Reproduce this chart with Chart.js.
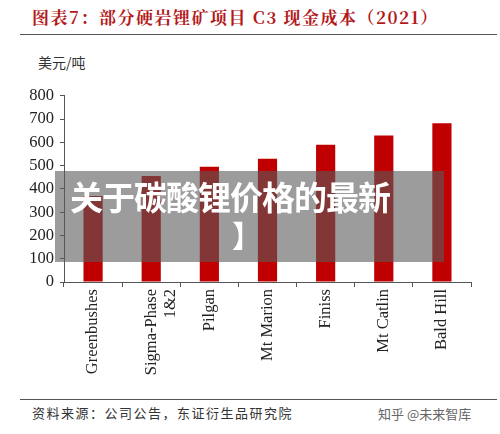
<!DOCTYPE html>
<html><head><meta charset="utf-8">
<script src="https://cdn.jsdelivr.net/npm/chart.js@4"></script>
<style>
body{margin:0;width:500px;height:434px;background:#fff;position:relative;overflow:hidden;font-family:"Noto Sans CJK SC";}
#title{position:absolute;left:32px;top:4px;font-size:17px;font-weight:bold;color:#b3191c;font-family:"Noto Serif CJK SC","Noto Sans CJK SC";letter-spacing:1.5px;}
.line{position:absolute;left:20px;width:477px;height:1px;background:#555;}
#unit{position:absolute;left:38px;top:52px;font-size:14px;color:#333;}
#src{position:absolute;left:32px;top:403px;font-size:13px;color:#333;letter-spacing:1.5px;}
#wm{position:absolute;left:378px;top:404px;font-size:13px;color:#666;}
#box{position:absolute;left:55px;top:171px;width:389px;height:91px;background:rgba(90,90,90,0.6);}
#ov{position:absolute;left:70px;top:172px;font-size:33px;font-weight:bold;color:#fff;letter-spacing:-1px;}
#ov2{position:absolute;left:232px;top:212px;font-size:30px;font-weight:bold;color:#fff;}
</style></head><body>
<div id="title">图表7：部分硬岩锂矿项目 C3 现金成本（2021）</div>
<div class="line" style="top:34px"></div>
<div id="unit">美元/吨</div>
<div style="position:absolute;left:0;top:80px;width:500px;height:300px"><canvas id="c"></canvas></div>
<div id="box"></div>
<div id="ov">关于碳酸锂价格的最新</div>
<div id="ov2">】</div>
<div class="line" style="top:399px"></div>
<div id="src">资料来源：公司公告，东证衍生品研究院</div>
<div id="wm">知乎 @未来智库</div>
<script>
const categories = ["Greenbushes", ["Sigma-Phase", "1&2"], "Pilgan", "Mt Marion", "Finiss", "Mt Catlin", "Bald Hill"];
const costs = [370, 456, 495, 530, 590, 630, 682];
const yTicks = [0, 100, 200, 300, 400, 500, 600, 700, 800];

const font = { family: "Liberation Serif", size: 16.5 };
new Chart(document.getElementById("c"), {
  type: "bar",
  data: {
    labels: categories,
    datasets: [{ data: costs, backgroundColor: "#c00000", barPercentage: 0.33, categoryPercentage: 1 }],
  },
  options: {
    responsive: true,
    maintainAspectRatio: false,
    animation: false,
    layout: { padding: { top: 9, right: 29 } },
    plugins: { legend: { display: false }, tooltip: { enabled: false } },
    scales: {
      x: {
        afterFit: (s) => { s.height = 98; },
        grid: { offset: true, drawOnChartArea: false, tickLength: 5, color: "#555" },
        border: { color: "#555" },
        ticks: { color: "#222", font: font, minRotation: 90, maxRotation: 90, padding: 2, autoSkip: false },
      },
      y: {
        min: 0, max: 800,
        afterFit: (s) => { s.width = 64; },
        afterBuildTicks: (s) => { s.ticks = yTicks.map((v) => ({ value: v })); },
        grid: { drawOnChartArea: false, tickLength: 4, color: "#555" },
        border: { color: "#555" },
        ticks: { color: "#222", font: font, padding: 6, autoSkip: false },
      },
    },
  },
});
</script>
</body></html>
